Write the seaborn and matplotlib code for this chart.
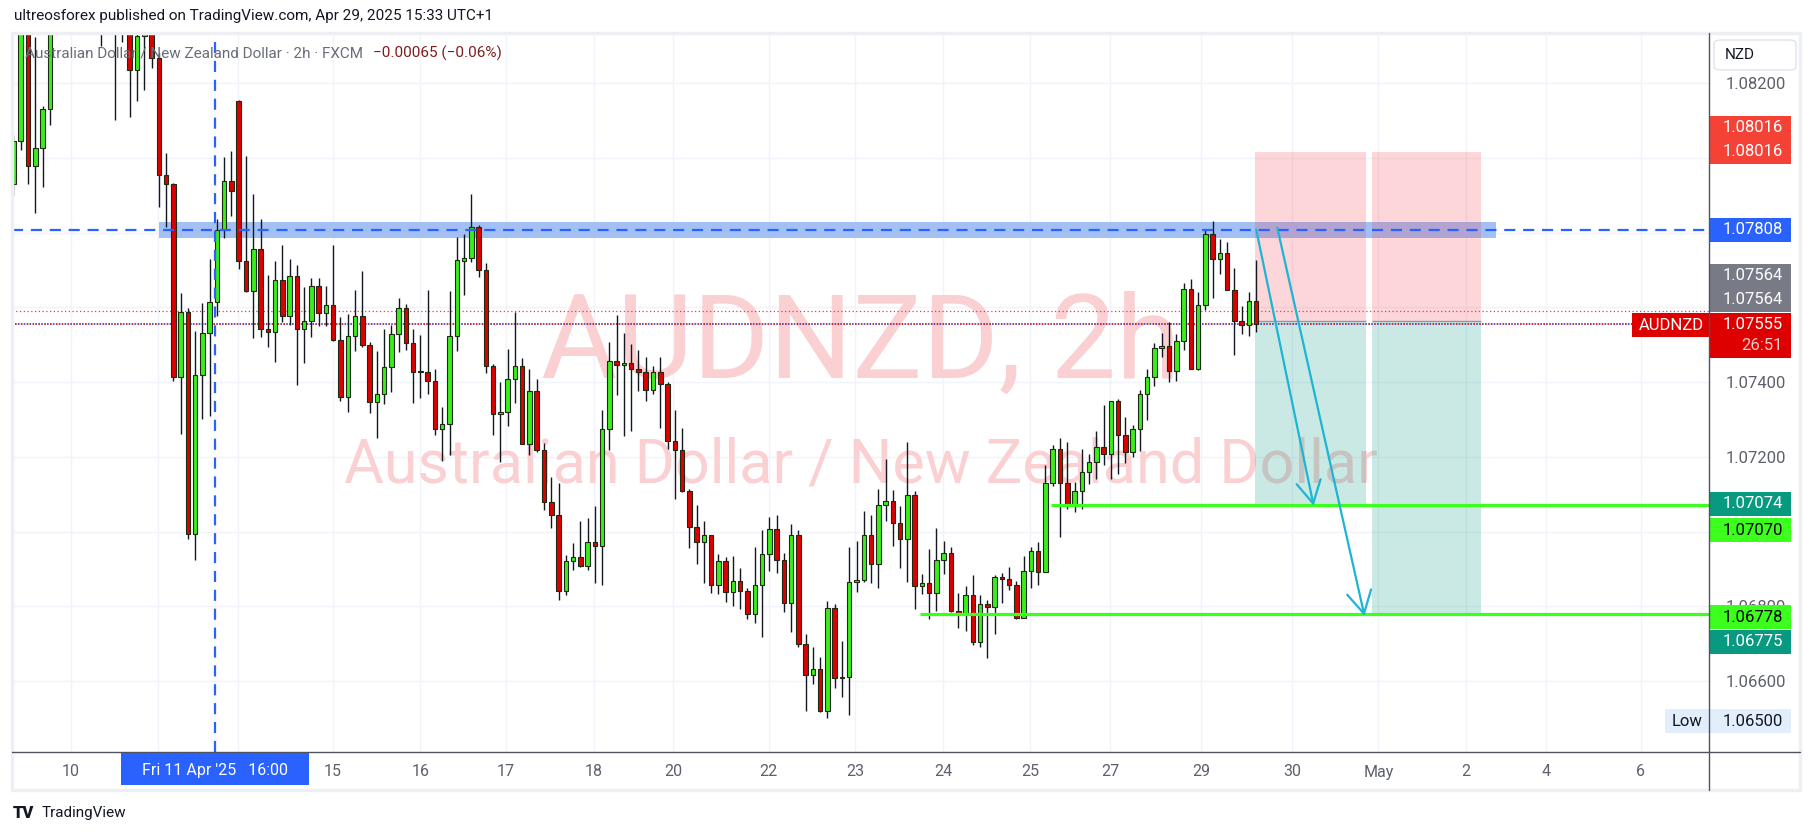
import numpy as np
import pandas as pd
import seaborn as sns
import matplotlib
import matplotlib.pyplot as plt
from matplotlib.patches import Rectangle, FancyBboxPatch
from matplotlib.lines import Line2D

matplotlib.use('Agg')

# AUDNZD 2h candles (oldest first)
opens = [1.07929, 1.08044, 1.08360, 1.07977, 1.08026, 1.08130, 1.08380, 1.08450, 1.08420, 1.08470,
         1.08410, 1.08380, 1.08430, 1.08380, 1.08420, 1.08360, 1.08380, 1.08234, 1.08327, 1.08345,
         1.08266, 1.07953, 1.07929, 1.07413, 1.07587, 1.06994, 1.07418, 1.07532, 1.07613, 1.07806,
         1.07937, 1.08153, 1.07725, 1.07644, 1.07755, 1.07541, 1.07534, 1.07672, 1.07578, 1.07683,
         1.07541, 1.07563, 1.07656, 1.07584, 1.07605, 1.07513, 1.07359, 1.07523, 1.07578, 1.07498,
         1.07346, 1.07367, 1.07440, 1.07528, 1.07598, 1.07504, 1.07427, 1.07426, 1.07402, 1.07274,
         1.07287, 1.07522, 1.07725, 1.07733, 1.07814, 1.07701, 1.07442, 1.07314, 1.07321, 1.07409,
         1.07444, 1.07235, 1.07375, 1.07217, 1.07079, 1.07043, 1.06840, 1.06920, 1.06933, 1.06907,
         1.06973, 1.06961, 1.07275, 1.07455, 1.07445, 1.07452, 1.07434, 1.07428, 1.07378, 1.07427,
         1.07394, 1.07242, 1.07217, 1.07109, 1.07012, 1.06971, 1.06990, 1.06858, 1.06920, 1.06838,
         1.06867, 1.06841, 1.06780, 1.06858, 1.06941, 1.07007, 1.06925, 1.06809, 1.06992, 1.06700,
         1.06615, 1.06631, 1.06521, 1.06795, 1.06608, 1.06610, 1.06864, 1.06869, 1.06992, 1.06912,
         1.07071, 1.07081, 1.07022, 1.06979, 1.07099, 1.06853, 1.06861, 1.06836, 1.06923, 1.06942,
         1.06787, 1.06779, 1.06830, 1.06705, 1.06805, 1.06799, 1.06877, 1.06872, 1.06858, 1.06769,
         1.06895, 1.06948, 1.06891, 1.07129, 1.07220, 1.07129, 1.07068, 1.07108, 1.07159, 1.07186,
         1.07227, 1.07207, 1.07350, 1.07258, 1.07212, 1.07273, 1.07367, 1.07414, 1.07490, 1.07497,
         1.07430, 1.07511, 1.07650, 1.07436, 1.07605, 1.07795, 1.07728, 1.07746, 1.07647, 1.07562,
         1.07552, 1.07618]
highs = [1.08060, 1.08380, 1.08390, 1.08323, 1.08138, 1.08420, 1.08470, 1.08500, 1.08520, 1.08500,
         1.08450, 1.08460, 1.08460, 1.08450, 1.08450, 1.08430, 1.08400, 1.08350, 1.08370, 1.08370,
         1.08280, 1.08012, 1.07932, 1.07637, 1.07597, 1.07536, 1.07612, 1.07729, 1.07835, 1.08002,
         1.08017, 1.08156, 1.08004, 1.07902, 1.07835, 1.07686, 1.07723, 1.07766, 1.07729, 1.07713,
         1.07654, 1.07679, 1.07679, 1.07657, 1.07768, 1.07573, 1.07581, 1.07645, 1.07696, 1.07506,
         1.07482, 1.07541, 1.07552, 1.07625, 1.07609, 1.07541, 1.07525, 1.07645, 1.07434, 1.07333,
         1.07644, 1.07787, 1.07795, 1.07903, 1.07821, 1.07718, 1.07447, 1.07399, 1.07488, 1.07588,
         1.07463, 1.07435, 1.07409, 1.07237, 1.07145, 1.07130, 1.06938, 1.06969, 1.07027, 1.07036,
         1.07068, 1.07324, 1.07506, 1.07580, 1.07532, 1.07502, 1.07485, 1.07466, 1.07442, 1.07466,
         1.07401, 1.07324, 1.07276, 1.07114, 1.07071, 1.07027, 1.06992, 1.06941, 1.06932, 1.06935,
         1.06902, 1.06848, 1.06959, 1.07004, 1.07038, 1.07045, 1.06942, 1.07020, 1.07004, 1.06725,
         1.06690, 1.06664, 1.06814, 1.06807, 1.06707, 1.06959, 1.06974, 1.07055, 1.07043, 1.07114,
         1.07193, 1.07112, 1.07068, 1.07239, 1.07109, 1.06886, 1.06953, 1.07009, 1.06974, 1.06959,
         1.06835, 1.06853, 1.06884, 1.06830, 1.06818, 1.06884, 1.06889, 1.06905, 1.06867, 1.06935,
         1.06959, 1.06973, 1.07178, 1.07232, 1.07250, 1.07239, 1.07132, 1.07220, 1.07207, 1.07268,
         1.07339, 1.07350, 1.07355, 1.07306, 1.07285, 1.07379, 1.07435, 1.07504, 1.07532, 1.07560,
         1.07529, 1.07664, 1.07675, 1.07640, 1.07806, 1.07830, 1.07782, 1.07775, 1.07706, 1.07603,
         1.07640, 1.07726]
lows = [1.07900, 1.08022, 1.07929, 1.07851, 1.07921, 1.08089, 1.08350, 1.08380, 1.08390, 1.08370,
        1.08350, 1.08350, 1.08299, 1.08360, 1.08100, 1.08310, 1.08110, 1.08151, 1.08182, 1.08241,
        1.07869, 1.07816, 1.07403, 1.07262, 1.06980, 1.06923, 1.07302, 1.07310, 1.07578, 1.07785,
        1.07845, 1.07703, 1.07641, 1.07518, 1.07520, 1.07493, 1.07454, 1.07560, 1.07552, 1.07393,
        1.07450, 1.07521, 1.07549, 1.07549, 1.07510, 1.07350, 1.07319, 1.07482, 1.07493, 1.07317,
        1.07250, 1.07340, 1.07374, 1.07480, 1.07487, 1.07343, 1.07358, 1.07367, 1.07259, 1.07190,
        1.07205, 1.07483, 1.07634, 1.07721, 1.07680, 1.07425, 1.07258, 1.07186, 1.07283, 1.07345,
        1.07234, 1.07205, 1.07212, 1.07058, 1.07009, 1.06818, 1.06830, 1.06898, 1.06905, 1.06898,
        1.06861, 1.06858, 1.07219, 1.07365, 1.07255, 1.07270, 1.07376, 1.07350, 1.07367, 1.07276,
        1.07222, 1.07086, 1.07106, 1.06956, 1.06912, 1.06861, 1.06836, 1.06833, 1.06812, 1.06802,
        1.06792, 1.06766, 1.06756, 1.06718, 1.06895, 1.06889, 1.06784, 1.06731, 1.06692, 1.06519,
        1.06592, 1.06518, 1.06500, 1.06582, 1.06558, 1.06508, 1.06838, 1.06866, 1.06861, 1.06850,
        1.07027, 1.06961, 1.06902, 1.06864, 1.06792, 1.06833, 1.06766, 1.06787, 1.06887, 1.06785,
        1.06741, 1.06733, 1.06695, 1.06692, 1.06662, 1.06727, 1.06809, 1.06843, 1.06766, 1.06769,
        1.06848, 1.06856, 1.06891, 1.07123, 1.06986, 1.07060, 1.07053, 1.07061, 1.07128, 1.07140,
        1.07179, 1.07140, 1.07155, 1.07184, 1.07200, 1.07215, 1.07299, 1.07389, 1.07468, 1.07401,
        1.07403, 1.07485, 1.07434, 1.07432, 1.07594, 1.07626, 1.07690, 1.07647, 1.07472, 1.07529,
        1.07524, 1.07534]
closes = [1.08044, 1.08360, 1.07977, 1.08025, 1.08130, 1.08380, 1.08450, 1.08420, 1.08470, 1.08410,
          1.08380, 1.08430, 1.08380, 1.08420, 1.08360, 1.08400, 1.08234, 1.08327, 1.08345, 1.08266,
          1.07953, 1.07929, 1.07413, 1.07587, 1.06994, 1.07418, 1.07532, 1.07613, 1.07806, 1.07937,
          1.07910, 1.07725, 1.07644, 1.07755, 1.07541, 1.07534, 1.07672, 1.07578, 1.07683, 1.07541,
          1.07563, 1.07656, 1.07584, 1.07605, 1.07513, 1.07359, 1.07523, 1.07578, 1.07498, 1.07346,
          1.07367, 1.07440, 1.07528, 1.07598, 1.07504, 1.07427, 1.07426, 1.07402, 1.07274, 1.07287,
          1.07522, 1.07726, 1.07733, 1.07814, 1.07701, 1.07442, 1.07314, 1.07321, 1.07409, 1.07444,
          1.07235, 1.07375, 1.07217, 1.07079, 1.07043, 1.06840, 1.06920, 1.06933, 1.06907, 1.06973,
          1.06961, 1.07275, 1.07455, 1.07445, 1.07452, 1.07434, 1.07428, 1.07378, 1.07427, 1.07394,
          1.07242, 1.07217, 1.07109, 1.07012, 1.06971, 1.06990, 1.06858, 1.06920, 1.06838, 1.06867,
          1.06841, 1.06780, 1.06858, 1.06941, 1.07007, 1.06925, 1.06809, 1.06992, 1.06700, 1.06615,
          1.06631, 1.06521, 1.06795, 1.06608, 1.06610, 1.06864, 1.06869, 1.06992, 1.06912, 1.07071,
          1.07081, 1.07022, 1.06979, 1.07099, 1.06853, 1.06861, 1.06836, 1.06923, 1.06942, 1.06787,
          1.06779, 1.06830, 1.06705, 1.06805, 1.06799, 1.06877, 1.06872, 1.06858, 1.06769, 1.06895,
          1.06948, 1.06891, 1.07129, 1.07220, 1.07129, 1.07068, 1.07108, 1.07159, 1.07186, 1.07227,
          1.07207, 1.07350, 1.07258, 1.07212, 1.07273, 1.07367, 1.07414, 1.07490, 1.07497, 1.07430,
          1.07511, 1.07650, 1.07436, 1.07605, 1.07795, 1.07728, 1.07746, 1.07647, 1.07562, 1.07552,
          1.07618, 1.07555]

# time axis (bar index of each date label)
date_ticks = [7.9, 19.9, 30.9, 43.9, 56.0, 67.8, 79.9, 90.8, 103.9, 115.8,
              127.9, 139.9, 150.9, 163.4, 175.9, 187.8, 199.8, 210.9, 223.9]
date_labels = ['10', '', '', '15', '16', '17', '18', '20', '22', '23',
               '24', '25', '27', '29', '30', 'May', '2', '4', '6']
price_ticks = [1.066, 1.068, 1.070, 1.072, 1.074, 1.076, 1.078, 1.080, 1.082]
# labels of levels that sit under a coloured price tag are not shown
price_labels = ['1.06600', '1.06800', '', '1.07200', '1.07400', '', '', '', '1.08200']

# drawings
resistance = 1.07808
zone_low, zone_high = 1.07785, 1.07828
zone_start, zone_end = 20.0, 204.0
cross_bar = 27.8
stop = 1.08016
entry = 1.07564
target1, target2 = 1.07074, 1.06775
support1, support2 = 1.07070, 1.06778
support1_start, support2_start = 142.8, 124.8
box1 = (170.9, 186.1)
box2 = (186.9, 201.9)
arrow1 = ((171.0, 1.07808), (178.9, 1.07069))
arrow2 = ((173.9, 1.07813), (185.9, 1.06774))
last_price = 1.07555
aux_line = 1.07589
low_mark = 1.06500

GREEN = '#39EE1A'
RED = '#DD0000'
LIME = '#3CFF1E'
TEAL = '#089981'
BLUE = '#2962FF'
TXT = '#131722'
AX_TXT = '#5D606B'

sns.set_theme(style='white')
plt.rcParams['font.family'] = ['Roboto', 'DejaVu Sans']

W, H = 1814, 836
L, R, T, B = 12, 1709, 33, 752
fig = plt.figure(figsize=(W / 100, H / 100), dpi=100)
fig.patch.set_facecolor('white')
ax = fig.add_axes([L / W, 1 - B / H, (R - L) / W, (B - T) / H])
ax.set_facecolor('white')

df = pd.DataFrame({'open': opens, 'high': highs, 'low': lows, 'close': closes})
df['idx'] = np.arange(len(df))
df['up'] = df['close'] >= df['open']

ax.set_xlim(-0.2, 233.3)
ax.set_ylim(1.0641, 1.08334)
axw, axh = R - L, B - T
y0, y1 = ax.get_ylim()
ppx = (y1 - y0) / axh
xpx = (ax.get_xlim()[1] - ax.get_xlim()[0]) / axw

# grid
ax.set_xticks(date_ticks)
ax.set_xticklabels(date_labels)
ax.yaxis.tick_right()
ax.set_yticks(price_ticks)
ax.set_yticklabels(price_labels)
ax.grid(True, color='#F0F3FA', lw=1)
ax.set_axisbelow(True)
ax.tick_params(axis='x', length=0, pad=9, labelsize=11.5, labelcolor=AX_TXT)
ax.tick_params(axis='y', length=0, pad=12, labelsize=12, labelcolor=AX_TXT)
for s in ax.spines.values():
    s.set_visible(False)

# watermark
ax.text(0.5, (B - 378) / axh, 'AUDNZD, 2h', transform=ax.transAxes, ha='center',
        va='baseline', fontsize=84, color='#FAD0D2', zorder=0.6)
ax.text(0.5, (B - 483) / axh, 'Australian Dollar / New Zealand Dollar', transform=ax.transAxes,
        ha='center', va='baseline', fontsize=44, color='#FAD0D2', zorder=0.6)

# zone + position boxes
ax.add_patch(Rectangle((zone_start, zone_low), zone_end - zone_start, zone_high - zone_low,
                       facecolor='#A3C0F4', edgecolor='none', zorder=1))
for (xa, xb), tgt in [(box1, target1), (box2, target2)]:
    ax.add_patch(Rectangle((xa, entry), xb - xa, stop - entry, facecolor='#F23645',
                           alpha=0.2, edgecolor='none', zorder=2))
    ax.add_patch(Rectangle((xa, tgt), xb - xa, entry - tgt, facecolor=TEAL,
                           alpha=0.21, edgecolor='none', zorder=2))
    ax.hlines(entry, xa, xb, color='#9598A1', lw=1, zorder=2.5)

# candles
ax.vlines(df['idx'], df['low'], df['high'], color=TXT, lw=1, zorder=3)
body_bottom = np.minimum(df['open'], df['close'])
body_h = np.maximum((df['close'] - df['open']).abs(), 0.00003)
ax.bar(df['idx'], body_h, bottom=body_bottom, width=0.62,
       color=np.where(df['up'], GREEN, RED), edgecolor='#1E2A14', linewidth=0.8, zorder=3.5)

# lines
dash = (0, (5, 3.5))
ax.axhline(resistance, color=BLUE, lw=1.6, ls=dash, zorder=4)
ax.axvline(cross_bar, color=BLUE, lw=1.6, ls=dash, zorder=4)
ax.axhline(aux_line, color='#F23645', lw=0.9, ls=(0, (1, 2)), zorder=2.6)
ax.axhline(last_price, color='#2F3DD6', lw=1.2, ls=(0, (1, 2.5)), zorder=2.6)
ax.axhline(last_price, color='#DD0000', lw=1.2, ls=(1.7, (1, 2.5)), zorder=2.6)
ax.hlines([support1, support2], [support1_start, support2_start], ax.get_xlim()[1],
          color=LIME, lw=2.3, zorder=5)

for start, end in [arrow1, arrow2]:
    ax.annotate('', xy=end, xytext=start,
                arrowprops=dict(arrowstyle='->,head_length=1.0,head_width=0.55', color='#1CB5D3',
                                lw=1.6, shrinkA=0, shrinkB=0, mutation_scale=16), zorder=6)

# price axis tags
yt = ax.get_yaxis_transform()


def tag(price, text, bg, fg, shift=0, h=24):
    yc = price - shift * ppx
    ax.add_patch(Rectangle((1.0, yc - h / 2 * ppx), 82 / axw, h * ppx, transform=yt,
                           facecolor=bg, edgecolor='none', clip_on=False, zorder=6))
    ax.text(1 + 74 / axw, yc, text, transform=yt, ha='right', va='center', color=fg,
            fontsize=12, clip_on=False, zorder=7)


tag(stop, '%.5f' % stop, '#F44336', 'white', shift=-24)
tag(stop, '%.5f' % stop, '#F44336', 'white')
tag(resistance, '%.5f' % resistance, BLUE, 'white')
tag(entry, '%.5f' % entry, '#787B86', 'white', shift=-45)
tag(entry, '%.5f' % entry, '#787B86', 'white', shift=-21)
tag(last_price, '', '#DE0000', 'white', shift=11, h=45)
ax.text(1 + 74 / axw, last_price, '%.5f' % last_price, transform=yt, ha='right', va='center',
        color='white', fontsize=12, clip_on=False, zorder=7)
ax.text(1 + 74 / axw, last_price - 21 * ppx, '26:51', transform=yt, ha='right', va='center',
        color='#F8C8C8', fontsize=12, clip_on=False, zorder=7)
ax.add_patch(Rectangle((1 - 77 / axw, last_price - 13 * ppx), 77 / axw, 24 * ppx, transform=yt,
                       facecolor='#DE0000', edgecolor='none', clip_on=False, zorder=6))
ax.text(1 - 38 / axw, last_price - 1 * ppx, 'AUDNZD', transform=yt, ha='center', va='center',
        color='white', fontsize=12, zorder=7)
tag(target1, '%.5f' % target1, TEAL, 'white')
tag(support1, '%.5f' % support1, LIME, 'black', shift=25)
tag(support2, '%.5f' % support2, LIME, 'black', shift=3)
tag(target2, '%.5f' % target2, TEAL, 'white', shift=26)
ax.add_patch(Rectangle((1 - 44 / axw, low_mark - 15 * ppx), 126 / axw, 24 * ppx, transform=yt,
                       facecolor='#E3EEFC', edgecolor='none', clip_on=False, zorder=6))
ax.text(1 + 74 / axw, low_mark - 3 * ppx, '%.5f' % low_mark, transform=yt, ha='right',
        va='center', color=TXT, fontsize=12, clip_on=False, zorder=7)
ax.text(1 - 22 / axw, low_mark - 3 * ppx, 'Low', transform=yt, ha='center', va='center',
        color=TXT, fontsize=12, clip_on=False, zorder=7)

# crosshair date label
xb_t = ax.get_xaxis_transform()
ax.add_patch(Rectangle((cross_bar - 94 * xpx, -33 / axh), 188 * xpx, 33 / axh, transform=xb_t,
                       facecolor=BLUE, edgecolor='none', clip_on=False, zorder=6))
ax.text(cross_bar, -19 / axh, "Fri 11 Apr '25   16:00", transform=xb_t, ha='center', va='center',
        color='white', fontsize=11.5, clip_on=False, zorder=7)

# frame and axis lines
fig.add_artist(Rectangle((L / W, 1 - 790 / H), (1800 - L) / W, (790 - T) / H,
                         transform=fig.transFigure, fill=False, ec='#EDEFF3', lw=2.5))
fig.add_artist(Line2D([R / W, R / W], [1 - T / H, 1 - 790 / H], color='#50535E', lw=1))
fig.add_artist(Line2D([L / W, 1800 / W], [1 - B / H, 1 - B / H], color='#50535E', lw=1))
fig.add_artist(FancyBboxPatch((1714 / W, 1 - 70 / H), 82 / W, 30 / H, transform=fig.transFigure,
                              boxstyle='round,pad=0,rounding_size=0.004', fc='white',
                              ec='#E0E3EB', lw=1))
fig.text(1725 / W, 1 - 55 / H, 'NZD', fontsize=11, color=TXT, va='center')

# header / legend / footer
fig.text(14 / W, 1 - 16 / H, 'ultreosforex published on TradingView.com, Apr 29, 2025 15:33 UTC+1',
         fontsize=11, color=TXT, va='center')
fig.text(25 / W, 1 - 53 / H, 'Australian Dollar / New Zealand Dollar \u00b7 2h \u00b7 FXCM',
         fontsize=11, color='#6A6D78', va='center')
fig.text(373 / W, 1 - 53 / H, '\u22120.00065 (\u22120.06%)', fontsize=11, color='#7F1D1D', va='center')
fig.text(13 / W, 1 - 813 / H, 'TV', fontsize=12, fontweight='heavy', color=TXT, va='center')
fig.text(42 / W, 1 - 813 / H, 'TradingView', fontsize=11, color=TXT, va='center')

fig.savefig('out.png', dpi=100)
